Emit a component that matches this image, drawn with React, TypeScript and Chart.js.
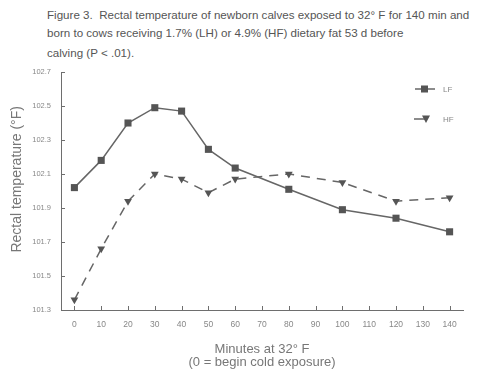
import React, { useEffect, useRef } from "react";
import { Chart, registerables } from "chart.js";

Chart.register(...registerables);

const titleLines = [
  "Figure 3.  Rectal temperature of newborn calves exposed to 32\u00b0 F for 140 min and",
  "born to cows receiving 1.7% (LH) or 4.9% (HF) dietary fat 53 d before",
  "calving (P < .01).",
];
const minutes = [0, 10, 20, 30, 40, 50, 60, 80, 100, 120, 140];
const lfTemps = [102.02, 102.18, 102.4, 102.49, 102.47, 102.245, 102.135, 102.01, 101.89, 101.84, 101.76];
const hfTemps = [101.36, 101.66, 101.94, 102.1, 102.07, 101.99, 102.07, 102.1, 102.05, 101.94, 101.96];
const xTickValues = [0, 10, 20, 30, 40, 50, 60, 70, 80, 90, 100, 110, 120, 130, 140];
const yTickValues = [101.3, 101.5, 101.7, 101.9, 102.1, 102.3, 102.5, 102.7];
const seriesNames = ["LF", "HF"];

const AXIS = "#6e6e6e";
const LINE = "#666666";
const MARK = "#555555";
const FONT = "'Liberation Sans', Arial, sans-serif";

const inwardTicks = {
  id: "inwardTicks",
  afterDraw(chart: any) {
    const { ctx, chartArea, scales } = chart;
    ctx.save();
    ctx.strokeStyle = AXIS;
    ctx.lineWidth = 1;
    ctx.beginPath();
    for (const v of yTickValues) {
      const py = Math.round(scales.y.getPixelForValue(v)) + 0.5;
      ctx.moveTo(chartArea.left, py);
      ctx.lineTo(chartArea.left + 4, py);
    }
    for (const v of xTickValues) {
      const px = Math.round(scales.x.getPixelForValue(v)) + 0.5;
      ctx.moveTo(px, chartArea.bottom);
      ctx.lineTo(px, chartArea.bottom - 4);
    }
    ctx.stroke();
    ctx.restore();
  },
};

const customLegend = {
  id: "customLegend",
  afterDraw(chart: any) {
    const { ctx, chartArea } = chart;
    const r = chartArea.right;
    const t = chartArea.top;
    ctx.save();
    ctx.strokeStyle = LINE;
    ctx.fillStyle = MARK;
    ctx.lineWidth = 1.5;
    // LF
    let y = t + 17;
    ctx.beginPath();
    ctx.moveTo(r - 48, y);
    ctx.lineTo(r - 28, y);
    ctx.stroke();
    ctx.fillRect(r - 42, y - 3.5, 7, 7);
    // HF
    y = t + 47;
    ctx.beginPath();
    ctx.moveTo(r - 49, y);
    ctx.lineTo(r - 36, y);
    ctx.stroke();
    ctx.beginPath();
    ctx.moveTo(r - 41, y - 3.5);
    ctx.lineTo(r - 33, y - 3.5);
    ctx.lineTo(r - 37, y + 4);
    ctx.closePath();
    ctx.fill();
    ctx.fillStyle = "#888";
    ctx.font = `8px ${FONT}`;
    ctx.textBaseline = "middle";
    ctx.fillText(seriesNames[0], r - 20, t + 18);
    ctx.fillText(seriesNames[1], r - 20, t + 48);
    ctx.restore();
  },
};

export default function App() {
  const ref = useRef<HTMLCanvasElement | null>(null);
  useEffect(() => {
    if (!ref.current) return;
    const chart = new Chart(ref.current, {
      type: "line",
      data: {
        datasets: [
          {
            label: seriesNames[0],
            data: minutes.map((m, i) => ({ x: m, y: lfTemps[i] })),
            borderColor: LINE,
            backgroundColor: MARK,
            borderWidth: 1.5,
            pointStyle: "rect",
            pointRadius: 5,
            pointBorderWidth: 0,
            tension: 0,
          },
          {
            label: seriesNames[1],
            data: minutes.map((m, i) => ({ x: m, y: hfTemps[i] })),
            borderColor: LINE,
            backgroundColor: MARK,
            borderWidth: 1.5,
            borderDash: [9, 7],
            pointStyle: "triangle",
            pointRotation: 180,
            pointRadius: 4.5,
            pointBorderWidth: 0,
            tension: 0,
          },
        ],
      },
      options: {
        animation: false,
        responsive: false,
        devicePixelRatio: 1,
        layout: { padding: { top: 72, right: 15, left: 0, bottom: 0 } },
        plugins: {
          legend: { display: false },
          tooltip: { enabled: false },
          title: { display: false },
        },
        scales: {
          x: {
            type: "linear",
            min: -5,
            max: 145,
            afterFit: (s: any) => {
              s.height = 61;
            },
            afterBuildTicks: (s: any) => {
              s.ticks = xTickValues.map((value) => ({ value }));
            },
            grid: { display: false, drawTicks: false },
            border: { display: true, color: AXIS, width: 1 },
            ticks: {
              autoSkip: false,
              maxRotation: 0,
              padding: 10,
              color: "#888",
              font: { family: FONT, size: 8.5 },
              callback: (v: any) => String(v),
            },
            title: {
              display: true,
              text: ["Minutes at 32\u00b0 F", "(0 = begin cold exposure)"],
              color: "#777",
              font: { family: FONT, size: 13, lineHeight: 1.0 },
              padding: { top: 0, bottom: 2.5 },
            },
          },
          y: {
            type: "linear",
            min: 101.3,
            max: 102.7,
            afterFit: (s: any) => {
              s.width = 61;
            },
            afterBuildTicks: (s: any) => {
              s.ticks = yTickValues.map((value) => ({ value }));
            },
            grid: { display: false, drawTicks: false },
            border: { display: true, color: AXIS, width: 1 },
            ticks: {
              padding: 10,
              color: "#888",
              font: { family: FONT, size: 7.5 },
              callback: (v: any) => Number(v).toFixed(1),
            },
            title: {
              display: true,
              text: "      Rectal temperature (\u00b0F)",
              color: "#777",
              font: { family: FONT, size: 14, lineHeight: 1.2 },
              padding: { top: 8.5, bottom: 0 },
            },
          },
        },
      },
      plugins: [inwardTicks, customLegend],
    });
    return () => chart.destroy();
  }, []);

  return (
    <div style={{ position: "fixed", left: 0, top: 0, width: 478, height: 371, background: "#fff" }}>
      {titleLines.map((line, i) => (
        <div
          key={i}
          style={{
            position: "absolute",
            left: 47,
            top: [15, 33, 53][i] - 8,
            height: 16,
            lineHeight: "16px",
            fontFamily: FONT,
            fontSize: 11.6,
            color: "#555",
            whiteSpace: "pre",
          }}
        >
          {line}
        </div>
      ))}
      <canvas ref={ref} width={478} height={371} style={{ position: "absolute", left: 0, top: 0 }} />
    </div>
  );
}
